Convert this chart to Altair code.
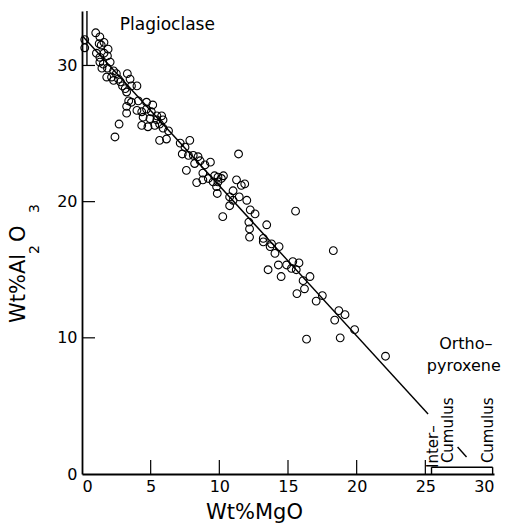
import altair as alt
import pandas as pd

# ---- data ----
mgo = [0.2, 0.2, 1.0, 1.3, 1.6, 1.4, 1.9, 1.25, 1.05, 1.3, 1.6, 1.85, 1.3, 1.55, 2.05, 1.45, 1.85,
       2.3, 2.5, 2.15, 2.65, 1.8, 2.3, 2.8, 2.95, 3.3, 3.5, 3.15, 3.6, 4.0, 3.25, 3.4, 3.6, 4.1,
       4.7, 5.15, 3.25, 4.0, 4.35, 4.7, 5.05, 5.45, 5.8, 4.45, 4.95, 5.45, 5.9, 4.35, 4.8, 5.3,
       5.65, 5.9, 6.3, 5.65, 6.15, 3.25, 2.7, 2.4,
       7.15, 7.5, 7.85, 7.3, 7.75, 8.1, 8.45, 7.6, 8.2, 8.6, 8.95, 9.35, 8.8, 9.2, 9.65, 9.9,
       10.3, 8.35, 8.8, 9.55, 9.9, 9.8, 10.15, 11.4, 11.0, 11.25, 11.6, 11.85, 10.75, 11.45,
       12.0, 12.25, 12.6, 12.15, 12.2, 10.25, 10.75, 11.0, 9.85,
       15.55, 13.45, 12.2, 13.2, 13.2, 13.8, 13.7, 14.35, 14.05, 18.3,
       13.55, 14.3, 14.9, 15.25, 15.35, 15.8, 14.5, 15.6, 16.6, 16.1, 16.2, 15.65, 17.5, 17.05,
       18.7, 19.15, 18.4, 19.85, 16.35, 18.8, 22.1]
al2o3 = [31.9, 31.3, 32.4, 32.1, 31.7, 31.5, 31.2, 31.6, 30.9, 30.6, 30.9, 30.7, 30.25, 30.1, 30.25, 29.8, 29.8,
         29.6, 29.4, 29.15, 29.0, 29.15, 28.9, 28.8, 28.5, 29.4, 29.0, 28.3, 28.5, 28.5, 28.05, 27.4, 27.3, 27.4,
         27.3, 27.1, 27.0, 26.7, 26.6, 26.8, 26.6, 26.3, 26.3, 26.2, 26.1, 26.0, 26.0, 25.6, 25.5, 25.6,
         25.7, 25.4, 25.2, 24.5, 24.6, 26.5, 25.7, 24.75,
         24.3, 24.0, 24.5, 23.5, 23.4, 23.4, 23.3, 22.3, 22.8, 23.0, 22.7, 22.9, 22.1, 21.7, 21.9, 21.8,
         21.9, 21.4, 21.6, 21.45, 21.45, 21.1, 21.7, 23.5, 20.8, 21.6, 21.2, 21.3, 20.35, 20.35,
         20.1, 19.4, 19.1, 18.5, 18.0, 18.9, 19.7, 20.1, 20.6,
         19.3, 18.3, 17.4, 17.3, 17.05, 16.9, 16.7, 16.7, 16.2, 16.4,
         15.0, 15.35, 15.35, 15.1, 15.6, 15.5, 14.5, 15.0, 14.5, 14.2, 13.6, 13.25, 13.1, 12.7,
         12.0, 11.7, 11.3, 10.6, 9.9, 10.0, 8.65]

fit_x = [0.0, 25.2]
fit_y = [32.2, 4.4]

x_ticks = [5, 10, 15, 20, 25]
y_ticks = [10, 20, 30]

# bracket segments (start x, start y, end x, end y)
seg_x = [0.36, 25.45, 25.45, 29.9, 27.35]
seg_y = [30.0, 0.0, 0.5, 0.0, 1.98]
seg_x2 = [0.36, 25.45, 29.9, 29.9, 28.0]
seg_y2 = [34.0, 0.5, 0.5, 0.5, 1.25]

plag_label = ["Plagioclase"]
plag_x = [2.75]
plag_y = [32.6]

opx_labels = ["Ortho\u2013", "pyroxene"]
opx_x = [27.95, 27.8]
opx_y = [9.15, 7.6]

vlabels = ["Inter\u2013", "Cumulus", "Cumulus"]
vlabel_x = [25.9, 26.98, 29.9]
vlabel_y = [0.44, 0.8, 0.8]

FONT = "DejaVu Sans"
W, H = 412, 463

pts = pd.DataFrame({"mgo": mgo, "al": al2o3})
fit = pd.DataFrame({"mgo": fit_x, "al": fit_y})
segs = pd.DataFrame({"x": seg_x, "y": seg_y, "x2": seg_x2, "y2": seg_y2})
plag = pd.DataFrame({"t": plag_label, "x": plag_x, "y": plag_y})
opx = pd.DataFrame({"t": opx_labels, "x": opx_x, "y": opx_y})
vlab = pd.DataFrame({"t": vlabels, "x": vlabel_x, "y": vlabel_y})
xt = pd.DataFrame({"v": x_ticks})
yt = pd.DataFrame({"v": y_ticks})

xs = alt.Scale(domain=[0, 30], nice=False, zero=False)
ys = alt.Scale(domain=[0, 34], nice=False, zero=False)

xaxis = alt.Axis(values=[0, 5, 10, 15, 20, 25, 30], ticks=False, tickSize=0, grid=False,
                 labelPadding=4, labelFontSize=16, labelFont=FONT, labelColor="black",
                 domainColor="black", domainWidth=1.8, title="Wt%MgO", titleFont=FONT,
                 titleFontSize=21, titleFontWeight="normal", titleColor="black",
                 titleX=172, titleY=44, titleAnchor="middle", titleBaseline="alphabetic")
yaxis = alt.Axis(values=[0, 10, 20, 30], ticks=False, tickSize=0, grid=False,
                 labelPadding=5, labelFontSize=16, labelFont=FONT, labelColor="black",
                 domainColor="black", domainWidth=1.8, title=None)

scatter = alt.Chart(pts).mark_point(shape="circle", filled=False, size=60, strokeWidth=1.1,
                                     color="black", opacity=1).encode(
    x=alt.X("mgo:Q", scale=xs, axis=xaxis),
    y=alt.Y("al:Q", scale=ys, axis=yaxis),
)

line = alt.Chart(fit).mark_line(color="black", strokeWidth=1.4).encode(
    x=alt.X("mgo:Q", scale=xs), y=alt.Y("al:Q", scale=ys))

seg = alt.Chart(segs).mark_rule(color="black", strokeWidth=1.4).encode(
    x=alt.X("x:Q", scale=xs), y=alt.Y("y:Q", scale=ys),
    x2="x2:Q", y2="y2:Q")

xtick = alt.Chart(xt).mark_rule(color="black", strokeWidth=1.2).encode(
    x=alt.X("v:Q", scale=xs), y=alt.value(H), y2=alt.value(H - 14))
ytick = alt.Chart(yt).mark_rule(color="black", strokeWidth=1.2).encode(
    y=alt.Y("v:Q", scale=ys), x=alt.value(0), x2=alt.value(13))

text_plag = alt.Chart(plag).mark_text(font=FONT, fontSize=17, color="black", align="left",
                                      baseline="alphabetic").encode(
    x=alt.X("x:Q", scale=xs), y=alt.Y("y:Q", scale=ys), text="t:N")

text_opx = alt.Chart(opx).mark_text(font=FONT, fontSize=16, color="black", align="center",
                                    baseline="alphabetic").encode(
    x=alt.X("x:Q", scale=xs), y=alt.Y("y:Q", scale=ys), text="t:N")

text_v = alt.Chart(vlab).mark_text(font=FONT, fontSize=15, color="black", align="left",
                                   baseline="alphabetic", angle=270).encode(
    x=alt.X("x:Q", scale=xs), y=alt.Y("y:Q", scale=ys), text="t:N")

# y title with subscripts
def ytext(t, px, py, fs):
    return alt.Chart(pd.DataFrame({"t": [t]})).mark_text(
        font=FONT, fontSize=fs, color="black", align="left", baseline="alphabetic", angle=270
    ).encode(x=alt.value(px), y=alt.value(py), text="t:N")

yt1 = ytext("Wt%Al", 25 - 82, 323 - 11, 21)
yt2 = ytext("2", 39 - 82, 254 - 11, 14)
yt3 = ytext("O", 25 - 82, 242 - 11, 21)
yt4 = ytext("3", 39 - 82, 213 - 11, 14)

chart = alt.layer(scatter, line, seg, xtick, ytick, text_plag, text_opx, text_v,
                  yt1, yt2, yt3, yt4).properties(
    width=W, height=H,
    autosize=alt.AutoSizeParams(type="none"),
    padding={"left": 82, "top": 11, "right": 508 - 82 - W, "bottom": 525 - 11 - H},
    background="white",
).configure_view(stroke=None)

chart.save("out.html", embed_options={"renderer": "svg", "actions": False})
